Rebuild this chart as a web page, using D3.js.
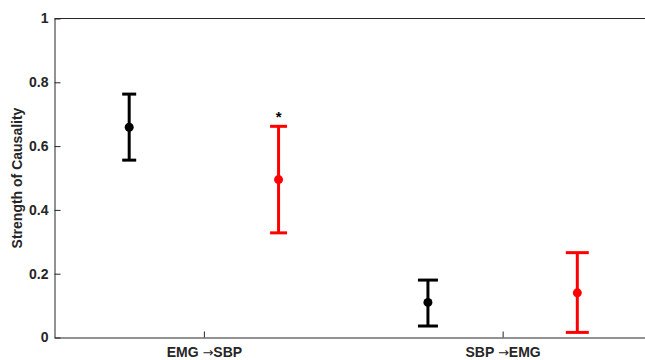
<!DOCTYPE html>
<html>
<head>
<meta charset="utf-8">
<script src="https://cdn.jsdelivr.net/npm/d3@7"></script>
<style>
  body { margin: 0; background: #fff; overflow: hidden; }
  text { font-family: "Liberation Sans", Arial, sans-serif; }
</style>
</head>
<body>
<div id="chart"></div>
<script>
// categories and values
const categories = ["EMG", "SBP"];
const targets = ["SBP", "EMG"];
const blackMean = [0.659, 0.110];
const blackLow  = [0.556, 0.036];
const blackHigh = [0.763, 0.180];
const redMean = [0.495, 0.140];
const redLow  = [0.328, 0.016];
const redHigh = [0.662, 0.266];
const marks = ["*", ""];
const yTicks = [0, 0.2, 0.4, 0.6, 0.8, 1];

const width = 645, height = 360;
const margin = { top: 18.5, left: 54.5, bottom: 337.5, right: 652 };

const svg = d3.select("#chart").append("svg")
  .attr("width", width)
  .attr("height", height)
  .style("display", "block");

const x = d3.scaleLinear().domain([0.5, 2.5]).range([margin.left, margin.right]);
const y = d3.scaleLinear().domain([0, 1]).range([margin.bottom, margin.top]);

const axisColor = "#262626";

// top edge of the box (right edge falls outside the picture)
svg.append("line")
  .attr("x1", margin.left).attr("x2", width)
  .attr("y1", margin.top).attr("y2", margin.top)
  .attr("stroke", axisColor);

// y axis
const yAxis = svg.append("g")
  .attr("transform", `translate(${margin.left},0)`)
  .call(d3.axisLeft(y)
    .tickValues(yTicks)
    .tickFormat(d => d3.format("~g")(d))
    .tickSizeInner(-6)
    .tickSizeOuter(0)
    .tickPadding(6));

// x axis
const xAxis = svg.append("g")
  .attr("transform", `translate(0,${margin.bottom})`)
  .call(d3.axisBottom(x)
    .tickValues([1, 2])
    .tickFormat("")
    .tickSizeInner(-6)
    .tickSizeOuter(0)
    .tickPadding(10));

[yAxis, xAxis].forEach(g => {
  g.select(".domain").attr("stroke", axisColor);
  g.selectAll(".tick line").attr("stroke", axisColor);
  g.selectAll(".tick text")
    .attr("fill", axisColor)
    .style("font-size", "14px")
    .style("font-weight", "bold");
});

// category labels with a thin arrow
xAxis.selectAll(".tick text").each(function(d, i) {
  const t = d3.select(this);
  t.append("tspan").text(categories[i] + " ");
  t.append("tspan")
    .style("font-family", "'DejaVu Sans', sans-serif")
    .style("font-weight", "normal")
    .style("font-size", "13px")
    .text("\u2192");
  t.append("tspan").text(targets[i]);
});

// y label
svg.append("text")
  .attr("transform", `translate(22,${(margin.top + margin.bottom) / 2}) rotate(-90)`)
  .attr("text-anchor", "middle")
  .attr("fill", axisColor)
  .style("font-size", "14px")
  .style("font-weight", "bold")
  .text("Strength of Causality");

// error bars
const offset = 0.25;
const capScale = d3.scaleLinear().domain([0.75, 2.25]).range([14, 23]);

function drawSeries(mean, low, high, color, shift) {
  const g = svg.append("g");
  mean.forEach((m, i) => {
    const xv = i + 1 + shift;
    const cx = x(xv);
    const cw = capScale(xv) / 2;
    g.append("line")
      .attr("x1", cx).attr("x2", cx)
      .attr("y1", y(low[i])).attr("y2", y(high[i]))
      .attr("stroke", color).attr("stroke-width", 3);
    [low[i], high[i]].forEach(v => {
      g.append("line")
        .attr("x1", cx - cw).attr("x2", cx + cw)
        .attr("y1", y(v)).attr("y2", y(v))
        .attr("stroke", color).attr("stroke-width", 3);
    });
    g.append("circle")
      .attr("cx", cx).attr("cy", y(m))
      .attr("r", 4.5)
      .attr("fill", color);
  });
}

drawSeries(blackMean, blackLow, blackHigh, "#000000", -offset);
drawSeries(redMean, redLow, redHigh, "#ff0000", offset);

// significance marks over red bars
marks.forEach((s, i) => {
  if (!s) return;
  svg.append("text")
    .attr("x", x(i + 1 + offset))
    .attr("y", y(redHigh[i]) - 4)
    .attr("text-anchor", "middle")
    .attr("fill", "#000")
    .style("font-size", "15px")
    .style("font-weight", "bold")
    .text(s);
});
</script>
</body>
</html>
